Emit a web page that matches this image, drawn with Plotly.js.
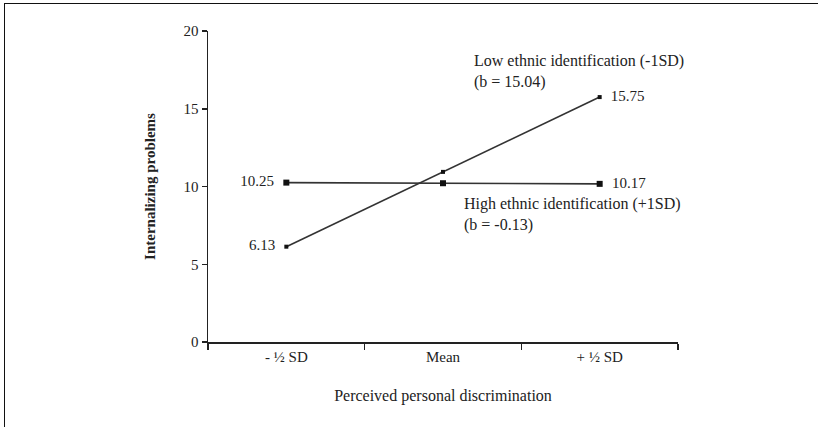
<!DOCTYPE html>
<html>
<head>
<meta charset="utf-8">
<script src="https://cdn.plot.ly/plotly-3.0.1.min.js"></script>
<style>
  html, body { margin: 0; padding: 0; background: #fff; }
  #wrap { position: relative; width: 818px; height: 427px; }
  #chart { width: 818px; height: 427px; }
  #frameTop { position: absolute; left: 4px; top: 3px; width: 814px; height: 0; border-top: 1.5px solid #111; }
  #frameLeft { position: absolute; left: 4px; top: 3px; width: 0; height: 424px; border-left: 1.5px solid #111; }
</style>
</head>
<body>
<div id="wrap">
  <div id="chart"></div>
  <div id="frameTop"></div>
  <div id="frameLeft"></div>
</div>
<script>
const categories = ['- \u00bd SD', 'Mean', '+ \u00bd SD'];
const lowEthnicValues = [6.13, 10.94, 15.75];
const highEthnicValues = [10.25, 10.21, 10.17];
const lowEthnicLabels = ['6.13', '', '15.75'];
const highEthnicLabels = ['10.25', '', '10.17'];
const yTickValues = [0, 5, 10, 15, 20];

const serif = 'Liberation Serif';
const ink = '#222';

function pad(labels) {
  return labels.map((t, i) => t === '' ? '' : (i === 0 ? t + '\u2002' : '\u2002' + t));
}

const traces = [
  {
    x: categories, y: highEthnicValues, type: 'scatter', mode: 'lines+markers+text',
    name: 'High ethnic identification (+1SD)',
    line: { color: '#333', width: 1.6 },
    marker: { symbol: 'square', size: 6, color: '#111' },
    text: pad(highEthnicLabels),
    textposition: ['middle left', 'middle center', 'middle right'],
    textfont: { family: serif, size: 15, color: ink },
    cliponaxis: false
  },
  {
    x: categories, y: lowEthnicValues, type: 'scatter', mode: 'lines+markers+text',
    name: 'Low ethnic identification (-1SD)',
    line: { color: '#333', width: 1.6 },
    marker: { symbol: 'square', size: 4, color: '#111' },
    text: pad(lowEthnicLabels),
    textposition: ['middle left', 'middle center', 'middle right'],
    textfont: { family: serif, size: 15, color: ink },
    cliponaxis: false
  }
];

const layout = {
  width: 818, height: 427,
  margin: { l: 208, r: 140, t: 31, b: 85 },
  paper_bgcolor: '#fff', plot_bgcolor: '#fff',
  showlegend: false,
  font: { family: serif, size: 15, color: ink },
  xaxis: {
    type: 'category',
    range: [-0.5, 2.5],
    showline: true, linecolor: ink, linewidth: 1.5,
    showgrid: false, zeroline: false,
    ticks: 'outside', tickson: 'boundaries', ticklen: 6, tickcolor: ink, tickwidth: 1.5,
    tickfont: { family: serif, size: 15, color: ink },
    title: { text: 'Perceived personal discrimination', font: { family: serif, size: 16, color: ink }, standoff: 26 },
    fixedrange: true
  },
  yaxis: {
    range: [0, 20],
    tickvals: yTickValues,
    showline: true, linecolor: ink, linewidth: 1.5,
    showgrid: false, zeroline: false,
    ticks: 'outside', ticklen: 5, tickcolor: ink, tickwidth: 1.5,
    tickfont: { family: serif, size: 15, color: ink },
    title: { text: '<b>Internalizing problems</b>', font: { family: serif, size: 15, color: ink }, standoff: 24 },
    fixedrange: true
  },
  annotations: [
    {
      xref: 'paper', yref: 'y', x: 0.562, y: 17.4,
      xanchor: 'left', yanchor: 'middle', align: 'left', showarrow: false,
      text: 'Low ethnic identification (-1SD)<br>(b = 15.04)',
      font: { family: serif, size: 16, color: ink }
    },
    {
      xref: 'paper', yref: 'y', x: 0.54, y: 8.2,
      xanchor: 'left', yanchor: 'middle', align: 'left', showarrow: false,
      text: 'High ethnic identification (+1SD)<br>(b = -0.13)',
      font: { family: serif, size: 16, color: ink }
    }
  ]
};

Plotly.newPlot('chart', traces, layout, { displayModeBar: false, staticPlot: true });
</script>
</body>
</html>
